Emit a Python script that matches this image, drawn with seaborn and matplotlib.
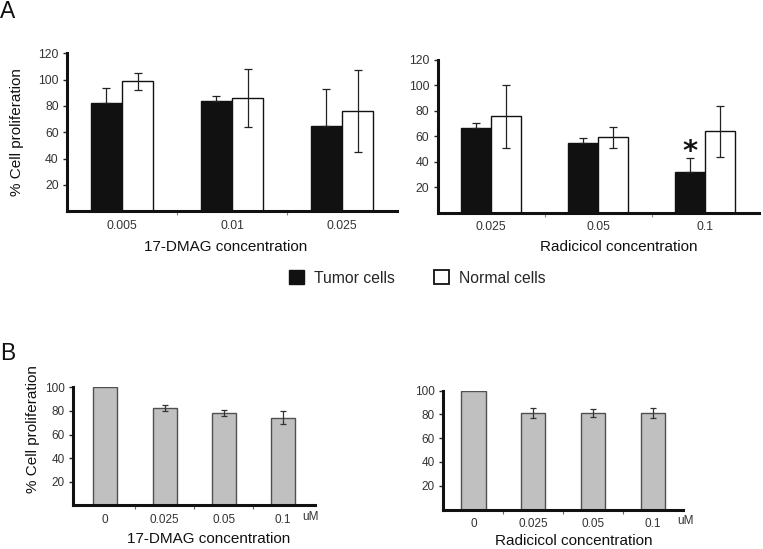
import numpy as np
import pandas as pd
import seaborn as sns
import matplotlib.pyplot as plt
from matplotlib.patches import Patch

# --- data ---
# panel A, 17-DMAG
dmag_conc = ['0.005', '0.01', '0.025']
dmag_tumor = [82.5, 83.6, 65.0]
dmag_tumor_sd = [11.0, 3.8, 28.0]
dmag_normal = [98.8, 86.3, 76.0]
dmag_normal_sd = [6.3, 22.0, 31.0]

# panel A, Radicicol
radi_conc = ['0.025', '0.05', '0.1']
radi_tumor = [66.7, 54.4, 31.9]
radi_tumor_sd = [3.3, 4.4, 11.0]
radi_normal = [75.8, 59.1, 63.8]
radi_normal_sd = [24.7, 8.4, 20.0]

# panel B
b_conc = ['0', '0.025', '0.05', '0.1']
b_dmag = [100, 82.5, 78.2, 74.0]
b_dmag_sd = [0, 2.4, 2.7, 5.5]
b_radi = [100, 81.3, 81.3, 81.0]
b_radi_sd = [0, 4.0, 3.2, 4.2]

groups = ['Tumor cells', 'Normal cells']

sns.set_theme(style='white')
plt.rcParams['font.family'] = ['Liberation Sans', 'DejaVu Sans']

W, H = 763, 549
fig = plt.figure(figsize=(W / 100, H / 100), dpi=100)


def add_ax(x0, x1, y_top, y_bot):
    # pixel box -> figure fraction
    return fig.add_axes([x0 / W, 1 - y_bot / H, (x1 - x0) / W, (y_bot - y_top) / H])


def ptext(x, y, s, **kw):
    # text placed in pixel coords (top-left origin)
    kw.setdefault('ha', 'center')
    kw.setdefault('va', 'center')
    kw.setdefault('color', '#111111')
    return fig.text(x / W, 1 - y / H, s, **kw)


def style_ax(ax, ymax, tick_size):
    for s in ['top', 'right']:
        ax.spines[s].set_visible(False)
    for s in ['left', 'bottom']:
        ax.spines[s].set_linewidth(2.2)
        ax.spines[s].set_color('#111111')
    ax.set_yticks(np.arange(20, ymax + 1, 20))
    ax.tick_params(axis='y', labelsize=tick_size, labelcolor='#333333',
                   length=3, width=1, direction='out', left=True, pad=3)
    ax.tick_params(axis='x', labelsize=tick_size, labelcolor='#333333',
                   length=0, pad=6)
    ax.set_ylabel('')
    ax.set_xlabel('')


def panel_a(ax, conc, tumor, tumor_sd, normal, normal_sd):
    df = pd.DataFrame({'conc': conc * 2,
                       'value': tumor + normal,
                       'group': [groups[0]] * len(conc) + [groups[1]] * len(conc)})
    sns.barplot(data=df, x='conc', y='value', hue='group', ax=ax,
                palette=['#111111', 'white'], edgecolor='#111111',
                linewidth=1, width=0.57, errorbar=None, legend=False,
                saturation=1)
    n = len(conc)
    # tumor bars are black, so only the upper half of the bar shows
    errs = [[[0] * n, tumor_sd], normal_sd]
    for cont, err in zip(ax.containers, errs):
        xs = [p.get_x() + p.get_width() / 2 for p in cont]
        ys = [p.get_height() for p in cont]
        ax.errorbar(xs, ys, yerr=err, fmt='none', ecolor='#222222',
                    elinewidth=0.9, capsize=3, capthick=0.9)
    ax.set_xlim(-0.5, n - 0.5)
    ax.set_ylim(0, 120)
    style_ax(ax, 120, 8.8)
    ax.set_xticks(np.arange(n - 1) + 0.5, minor=True)
    ax.tick_params(axis='x', which='minor', length=3, width=0.8,
                   direction='out', bottom=True, color='#888888')


def panel_b(ax, vals, sd, xlim):
    df = pd.DataFrame({'conc': b_conc, 'value': vals})
    sns.barplot(data=df, x='conc', y='value', ax=ax, color='#c0c0c0',
                edgecolor='#505050', linewidth=1, width=0.405,
                errorbar=None, saturation=1)
    cont = ax.containers[0]
    xs = [p.get_x() + p.get_width() / 2 for p in cont][1:]
    ax.errorbar(xs, vals[1:], yerr=sd[1:], fmt='none', ecolor='#333333',
                elinewidth=0.9, capsize=2.5, capthick=0.9)
    ax.set_xlim(*xlim)
    ax.set_ylim(0, 100)
    style_ax(ax, 100, 8.5)
    ax.set_xticks(np.arange(len(b_conc) - 1) + 0.5, minor=True)
    ax.tick_params(axis='x', which='minor', length=3, width=0.8,
                   direction='out', bottom=True, color='#666666')


# ---- panel A ----
ax1 = add_ax(67, 397, 53.3, 211.3)
panel_a(ax1, dmag_conc, dmag_tumor, dmag_tumor_sd, dmag_normal, dmag_normal_sd)

ax2 = add_ax(437.5, 758.5, 59.7, 212.7)
panel_a(ax2, radi_conc, radi_tumor, radi_tumor_sd, radi_normal, radi_normal_sd)
# significance mark above tumor bar at 0.1
p = ax2.containers[0][2]
ax2.text(p.get_x() + p.get_width() / 2, radi_tumor[2] + radi_tumor_sd[2] + 5,
         '*', ha='center', va='center', fontsize=21, fontweight='bold',
         family='DejaVu Sans', color='#111111')

ptext(17.5, 132, '% Cell proliferation', fontsize=11, rotation=90)
ptext(226, 247, '17-DMAG concentration', fontsize=11)
ptext(619, 247, 'Radicicol concentration', fontsize=11)

# legend
handles = [Patch(facecolor='#111111', edgecolor='#111111', label=groups[0]),
           Patch(facecolor='white', edgecolor='#111111', linewidth=1.3, label=groups[1])]
fig.legend(handles=handles, loc='center', bbox_to_anchor=(417 / W, 1 - 278 / H),
           ncol=2, frameon=False, fontsize=11.3, handlelength=1.0, handleheight=1.0,
           columnspacing=2.5, handletextpad=0.6, borderpad=0, borderaxespad=0)

# ---- panel B ----
ax3 = add_ax(73.3, 315, 387.3, 505.3)
panel_b(ax3, b_dmag, b_dmag_sd, (-0.54, 3.54))

ax4 = add_ax(443.3, 683.3, 390.7, 509.5)
panel_b(ax4, b_radi, b_radi_sd, (-0.505, 3.51))

ptext(33, 429, '% Cell proliferation', fontsize=11, rotation=90)
ptext(302, 517, 'uM', fontsize=8.5, ha='left', color='#333333')
ptext(677, 521, 'uM', fontsize=8.5, ha='left', color='#333333')
ptext(209, 539, '17-DMAG concentration', fontsize=11)
ptext(574, 541, 'Radicicol concentration', fontsize=11)

ptext(0, 11, 'A', fontsize=16.5, ha='left')
ptext(0, 353.5, 'B', fontsize=16.5, ha='left')

fig.savefig('out.png', dpi=100)
